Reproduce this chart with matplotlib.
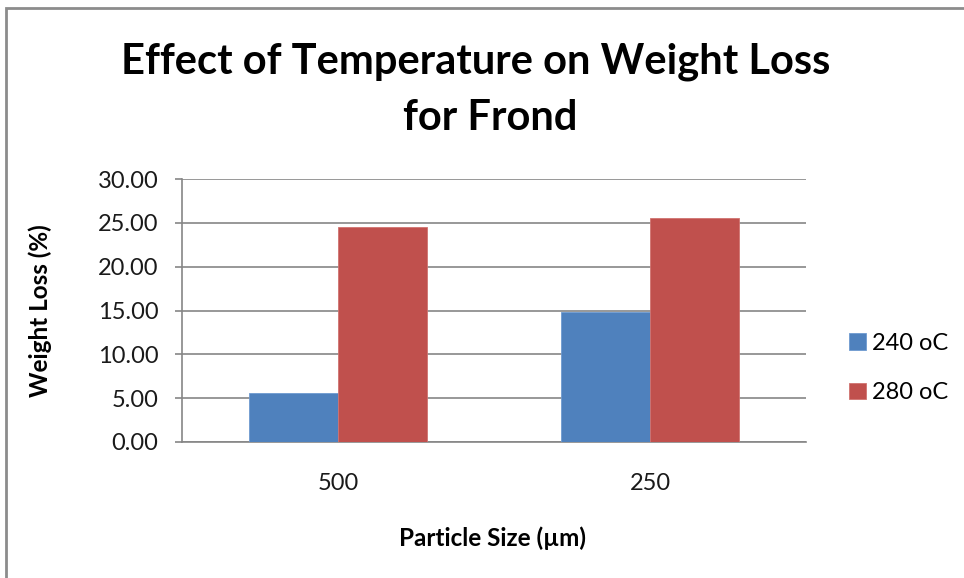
import matplotlib
matplotlib.use("Agg")
import matplotlib.pyplot as plt
import numpy as np
from matplotlib.patches import Rectangle

plt.rcParams['font.family'] = ['Lato', 'DejaVu Sans']

categories = ["500", "250"]
series_names = ["240 oC", "280 oC"]
values_240 = [5.63, 14.80]
values_280 = [24.47, 25.60]
yticks = [0, 5, 10, 15, 20, 25, 30]

colors = ["#4F81BD", "#C0504D"]
grid_color = "#868686"

W, H = 964, 578
fig = plt.figure(figsize=(W / 100, H / 100), dpi=100)

# outer chart frame
fig.patches.append(Rectangle((6 / W, -0.05), 1.1, 1 - 8 / H + 0.05, transform=fig.transFigure,
                             fill=False, edgecolor="#8c8c8c", linewidth=2))

ax = fig.add_axes([182 / W, 1 - 442 / H, (806 - 182) / W, (442 - 179) / H])

x = np.arange(len(categories))
bw = 0.285
ax.bar(x - bw / 2, values_240, bw, color=colors[0], edgecolor="#6f9ad0", linewidth=0.6,
       label=series_names[0], zorder=3)
ax.bar(x + bw / 2, values_280, bw, color=colors[1], edgecolor="#d07370", linewidth=0.6,
       label=series_names[1], zorder=3)

ax.set_xlim(-0.5, 1.5)
ax.set_ylim(0, 30)
ax.set_yticks(yticks)
ax.set_yticklabels([f"{v:.2f}" for v in yticks])
ax.set_xticks(x)
ax.set_xticklabels(categories)

ax.yaxis.grid(True, color=grid_color, linewidth=1.2, zorder=0)
ax.set_axisbelow(True)
for s in ["top", "right"]:
    ax.spines[s].set_visible(False)
ax.spines["left"].set_color(grid_color)
ax.spines["left"].set_linewidth(1.2)
ax.spines["bottom"].set_color(grid_color)
ax.spines["bottom"].set_linewidth(1.2)

ax.tick_params(axis="y", length=5, width=1.2, color=grid_color, pad=12,
               labelsize=17, labelcolor="#1a1a1a")
ax.tick_params(axis="x", length=0, pad=22, labelsize=17, labelcolor="#1a1a1a")

fig.text(476 / W, 1 - 62 / H, "Effect of Temperature on Weight Loss", ha="center", va="center",
         fontsize=30, fontweight="bold", color="black")
fig.text(490 / W, 1 - 118 / H, "for Frond", ha="center", va="center",
         fontsize=30, fontweight="bold", color="black")

fig.text(493 / W, 1 - 538 / H, "Particle Size (\u00b5m)", ha="center", va="center",
         fontsize=17.5, fontweight="bold", color="black")
fig.text(40 / W, 1 - 311 / H, "Weight Loss (%)", ha="center", va="center", rotation=90,
         fontsize=17.5, fontweight="bold", color="black")

leg = fig.legend(loc="center left", bbox_to_anchor=(828 / W, 1 - 368 / H), frameon=False,
                 fontsize=17, handlelength=0.7, handleheight=0.7, handletextpad=0.25,
                 labelspacing=1.2)

fig.savefig("out.png", dpi=100)
